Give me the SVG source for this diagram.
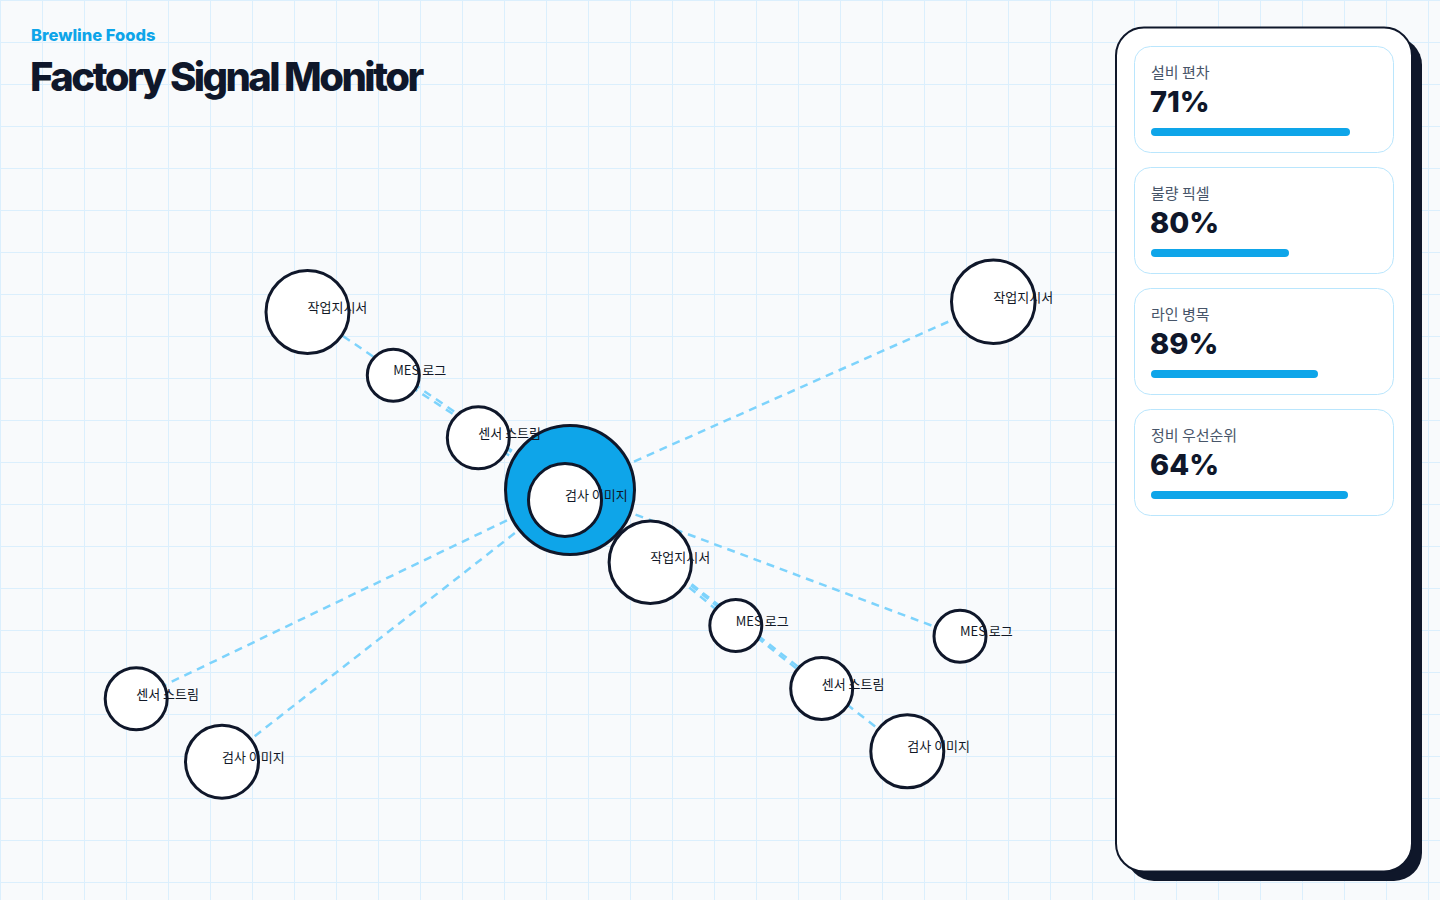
<svg xmlns="http://www.w3.org/2000/svg" width="1440" height="900" viewBox="0 0 1440 900">
<defs>
<pattern id="grid" x="0" y="0" width="42" height="42" patternUnits="userSpaceOnUse">
<rect x="0" y="0" width="1" height="42" fill="#dbeffd"/>
<rect x="0" y="0" width="42" height="1" fill="#dbeffd"/>
</pattern>
<style>
.edge{fill:none;stroke:#7dd3fc;stroke-width:2.5;stroke-dasharray:8 6}
.node{fill:#ffffff;stroke:#0f172a;stroke-width:3}
.hub{fill:#0ea5e9;stroke:#0f172a;stroke-width:3}
.lbl{font-family:"Noto Sans CJK KR","Noto Sans",sans-serif;font-size:13px;fill:#111827}
.card{fill:#ffffff;stroke:#bae6fd;stroke-width:1}
.clbl{font-family:"Noto Sans CJK KR","Noto Sans",sans-serif;font-size:15px;fill:#475569}
.cval{font-family:Inter,"Liberation Sans",sans-serif;font-size:29px;font-weight:800;fill:#0f172a}
.bar{fill:#0ea5e9}
</style>
</defs>
<rect width="1440" height="900" fill="#f8fafc"/>
<rect width="1440" height="900" fill="url(#grid)"/>

<g id="header">
<text x="31" y="41" font-family="Inter,'Liberation Sans',sans-serif" font-size="16.5" font-weight="800" fill="#0ea5e9">Brewline Foods</text>
<text x="30" y="91" font-family="Inter,'Liberation Sans',sans-serif" font-size="40" font-weight="800" letter-spacing="-2.6" fill="#0f172a">Factory Signal Monitor</text>
</g>

<g id="connectors">
<line class="edge" x1="570" y1="490" x2="307.5" y2="312"/>
<line class="edge" x1="570" y1="490" x2="393.3" y2="375.2"/>
<line class="edge" x1="570" y1="490" x2="478.3" y2="437.8"/>
<line class="edge" x1="570" y1="490" x2="993.3" y2="301.7"/>
<line class="edge" x1="570" y1="490" x2="650.3" y2="562.3"/>
<line class="edge" x1="570" y1="490" x2="735.8" y2="625.5"/>
<line class="edge" x1="570" y1="490" x2="821.7" y2="688.5"/>
<line class="edge" x1="570" y1="490" x2="907.3" y2="751.3"/>
<line class="edge" x1="570" y1="490" x2="960" y2="636.2"/>
<line class="edge" x1="570" y1="490" x2="136.2" y2="698.8"/>
<line class="edge" x1="570" y1="490" x2="222" y2="761.7"/>
</g>

<g id="node-hub">
<circle class="hub" cx="570" cy="490" r="64.5"/>
<circle class="node" cx="565" cy="500" r="36.5"/>
<text class="lbl" x="565" y="500">검사 이미지</text>
</g>
<g id="node-tl-work">
<circle class="node" cx="307.5" cy="312" r="41.5"/>
<text class="lbl" x="307.5" y="312">작업지시서</text>
</g>
<g id="node-tl-mes">
<circle class="node" cx="393.3" cy="375.2" r="26"/>
<text class="lbl" x="393.3" y="375.2">MES 로그</text>
</g>
<g id="node-tl-sensor">
<circle class="node" cx="478.3" cy="437.8" r="31"/>
<text class="lbl" x="478.3" y="437.8">센서 스트림</text>
</g>
<g id="node-tr-work">
<circle class="node" cx="993.3" cy="301.7" r="41.8"/>
<text class="lbl" x="993.3" y="301.7">작업지시서</text>
</g>
<g id="node-mid-work">
<circle class="node" cx="650.3" cy="562.3" r="41.2"/>
<text class="lbl" x="650.3" y="562.3">작업지시서</text>
</g>
<g id="node-mid-mes">
<circle class="node" cx="735.8" cy="625.5" r="26"/>
<text class="lbl" x="735.8" y="625.5">MES 로그</text>
</g>
<g id="node-mid-sensor">
<circle class="node" cx="821.7" cy="688.5" r="31"/>
<text class="lbl" x="821.7" y="688.5">센서 스트림</text>
</g>
<g id="node-br-inspect">
<circle class="node" cx="907.3" cy="751.3" r="36.5"/>
<text class="lbl" x="907.3" y="751.3">검사 이미지</text>
</g>
<g id="node-r-mes">
<circle class="node" cx="960" cy="636.2" r="26"/>
<text class="lbl" x="960" y="636.2">MES 로그</text>
</g>
<g id="node-bl-sensor">
<circle class="node" cx="136.2" cy="698.8" r="31"/>
<text class="lbl" x="136.2" y="698.8">센서 스트림</text>
</g>
<g id="node-bl-inspect">
<circle class="node" cx="222" cy="761.7" r="36.5"/>
<text class="lbl" x="222" y="761.7">검사 이미지</text>
</g>

<g id="panel">
<rect x="1126" y="37" width="296" height="844" rx="28" fill="#0f172a"/>
<rect x="1116" y="27.5" width="296" height="844" rx="28" fill="#ffffff" stroke="#0f172a" stroke-width="2"/>
<g id="card-1">
<rect class="card" x="1134.5" y="46.5" width="259" height="106" rx="16"/>
<text class="clbl" x="1151" y="78">설비 편차</text>
<text class="cval" x="1150" y="112">71%</text>
<rect class="bar" x="1151" y="128" width="199" height="8" rx="4"/>
</g>
<g id="card-2">
<rect class="card" x="1134.5" y="167.5" width="259" height="106" rx="16"/>
<text class="clbl" x="1151" y="199">불량 픽셀</text>
<text class="cval" x="1150" y="233">80%</text>
<rect class="bar" x="1151" y="249" width="138" height="8" rx="4"/>
</g>
<g id="card-3">
<rect class="card" x="1134.5" y="288.5" width="259" height="106" rx="16"/>
<text class="clbl" x="1151" y="320">라인 병목</text>
<text class="cval" x="1150" y="354">89%</text>
<rect class="bar" x="1151" y="370" width="167" height="8" rx="4"/>
</g>
<g id="card-4">
<rect class="card" x="1134.5" y="409.5" width="259" height="106" rx="16"/>
<text class="clbl" x="1151" y="441">정비 우선순위</text>
<text class="cval" x="1150" y="475">64%</text>
<rect class="bar" x="1151" y="491" width="197" height="8" rx="4"/>
</g>
</g>
</svg>
